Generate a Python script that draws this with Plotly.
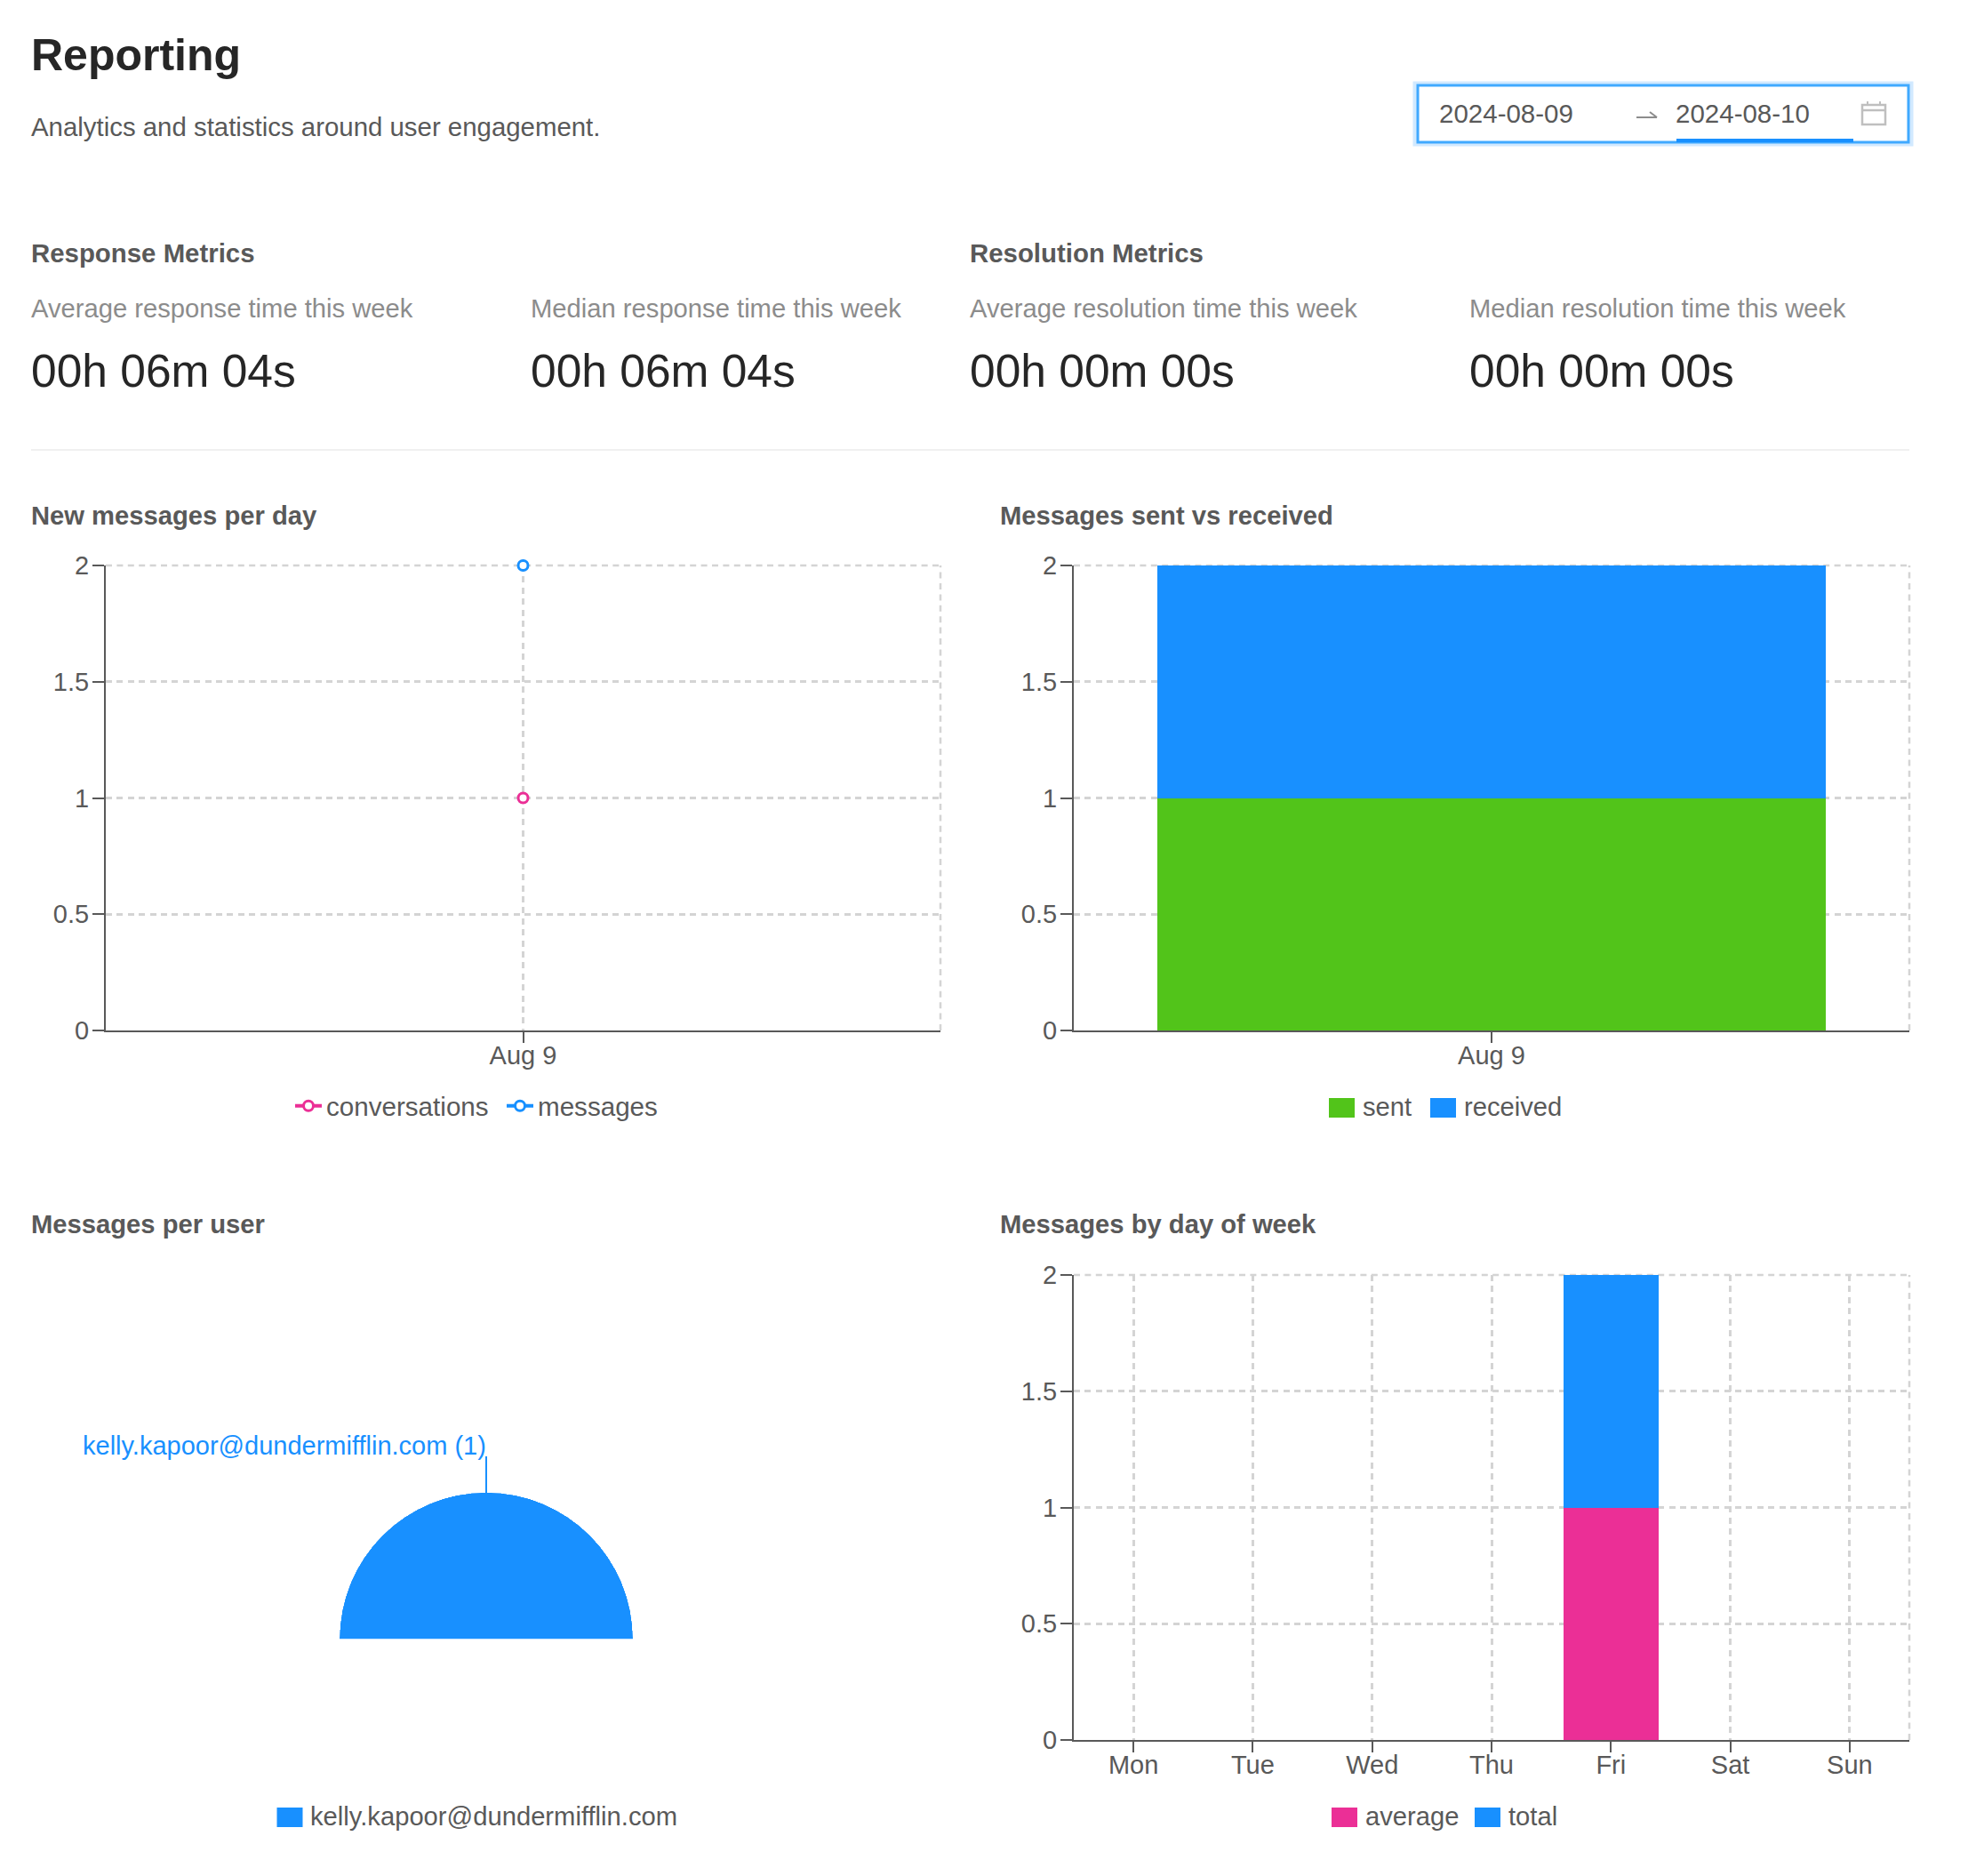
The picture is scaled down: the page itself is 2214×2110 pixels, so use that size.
import plotly.graph_objects as go

W, H = 2214, 2110
FONT = "Liberation Sans"
BLUE = "#1890ff"
PINK = "#eb2f96"
GREEN = "#52c41a"
AXIS = "#595959"
GRID = "#d4d4d4"
DASH = "7px,5.4px"

# values
day_labels = ["Aug 9"]
conversations = [1]
messages = [2]
sent = [1]
received = [1]
users = ["kelly.kapoor@dundermifflin.com"]
user_messages = [1]
weekdays = ["Mon", "Tue", "Wed", "Thu", "Fri", "Sat", "Sun"]
week_average = [0, 0, 0, 0, 1, 0, 0]
week_total = [0, 0, 0, 0, 1, 0, 0]
y_ticks = [0, 0.5, 1, 1.5, 2]
metrics = [
    ("Average response time this week", "00h 06m 04s"),
    ("Median response time this week", "00h 06m 04s"),
    ("Average resolution time this week", "00h 00m 00s"),
    ("Median resolution time this week", "00h 00m 00s"),
]


def fx(x):
    return x / W


def fy(y):
    return 1 - y / H


annotations = []
shapes = []


def add_text(x, y, text, size=29, color=AXIS, bold=False, anchor="left"):
    annotations.append(dict(
        xref="paper", yref="paper", x=fx(x), y=fy(y), text=f"<b>{text}</b>" if bold else text,
        showarrow=False, xanchor=anchor, yanchor="middle",
        font=dict(family=FONT, size=size, color=color), borderpad=0, borderwidth=0,
    ))


def add_rect(x0, y0, x1, y1, fill="rgba(0,0,0,0)", line=None, width=0):
    shapes.append(dict(
        type="rect", xref="paper", yref="paper", x0=fx(x0), x1=fx(x1), y0=fy(y0), y1=fy(y1),
        fillcolor=fill, line=dict(color=line or "rgba(0,0,0,0)", width=width),
    ))


def add_line(x0, y0, x1, y1, color, width):
    shapes.append(dict(
        type="line", xref="paper", yref="paper", x0=fx(x0), x1=fx(x1), y0=fy(y0), y1=fy(y1),
        line=dict(color=color, width=width),
    ))


# plotly's own bar legend swatch is a fixed 12px square, so these are drawn by hand
def add_swatch_legend(y, items):
    for x, text_x, label, color in items:
        add_rect(x, y - 11, x + 29, y + 11, fill=color)
        add_text(text_x, y - 1, label, size=29.2)


def axis_pair(x0, x1, y0, y1, anchor):
    xaxis = dict(
        domain=[fx(x0), fx(x1)], anchor=anchor, type="category", showline=True, linecolor=AXIS, linewidth=2,
        ticks="outside", ticklen=12, tickwidth=2, tickcolor=AXIS, showgrid=True, gridcolor=GRID, gridwidth=2.5,
        griddash=DASH, tickfont=dict(family=FONT, size=29, color=AXIS), zeroline=False, fixedrange=True,
        ticklabelstandoff=-11,
    )
    yaxis = dict(
        domain=[fy(y1), fy(y0)], range=[0, 2], tickvals=y_ticks, showline=True, linecolor=AXIS, linewidth=2,
        ticks="outside", ticklen=13, tickwidth=2, tickcolor=AXIS, showgrid=True, gridcolor=GRID, gridwidth=2.5,
        griddash=DASH, tickfont=dict(family=FONT, size=29, color=AXIS), zeroline=False, fixedrange=True,
        ticklabelstandoff=-2,
    )
    return xaxis, yaxis


# plotly skips the gridlines that sit on the plot edge
def plot_edges(xref, yref):
    for edge in [
        dict(x0=1, x1=1, y0=0, y1=1),
        dict(x0=0, x1=1, y0=1, y1=1),
    ]:
        shapes.append(dict(
            type="line", xref=f"{xref} domain", yref=f"{yref} domain", layer="below",
            line=dict(color=GRID, width=2.5, dash=DASH), **edge,
        ))


fig = go.Figure()

# New messages per day
for name, vals, color in [("conversations", conversations, PINK), ("messages", messages, BLUE)]:
    fig.add_trace(go.Scatter(
        x=day_labels, y=vals, name=name, mode="lines+markers", cliponaxis=False, xaxis="x", yaxis="y",
        line=dict(color=color, width=4),
        marker=dict(size=11, color="white", line=dict(color=color, width=3)),
    ))

# Messages sent vs received
for name, vals, color in [("sent", sent, GREEN), ("received", received, BLUE)]:
    fig.add_trace(go.Bar(
        x=day_labels, y=vals, name=name, marker=dict(color=color, line=dict(width=0)),
        xaxis="x2", yaxis="y2", showlegend=False,
    ))

# Messages by day of week
for name, vals, color in [("average", week_average, PINK), ("total", week_total, BLUE)]:
    fig.add_trace(go.Bar(
        x=weekdays, y=vals, name=name, xaxis="x3", yaxis="y3", showlegend=False,
        marker=dict(color=color, line=dict(width=0)),
    ))

# Messages per user, half donut without hole
fig.add_trace(go.Barpolar(
    r=user_messages, theta=[90], width=[180], name=users[0], marker=dict(color=BLUE, line=dict(width=0)),
    subplot="polar", showlegend=False,
))

x1, y1 = axis_pair(119, 1058, 636, 1159, "y")
x2, y2 = axis_pair(1208, 2148, 636, 1159, "y2")
x3, y3 = axis_pair(1208, 2148, 1434, 1957, "y3")
x1.update(range=[-0.5, 0.5])
x2.update(range=[-0.5, 0.5], anchor="y2")
x3.update(range=[-0.5, 6.5], categoryorder="array", categoryarray=weekdays)
y2.update(anchor="x2")
y3.update(anchor="x3")
y1.update(anchor="x")
plot_edges("x", "y")
plot_edges("x2", "y2")
plot_edges("x3", "y3")

# header
add_text(35, 62, "Reporting", size=50, color="#262626", bold=True)
add_text(35, 143, "Analytics and statistics around user engagement.", size=29.4)

# date picker
add_rect(1592, 94, 2150, 162, line="rgba(24,144,255,0.2)", width=5)
add_rect(1595, 96, 2147, 160, fill="white", line="#40a9ff", width=3)
add_line(1886, 158, 2085, 158, BLUE, 4)
add_text(1619, 128, "2024-08-09", size=29.5)
add_text(1885, 128, "2024-08-10", size=29.5)
add_line(1841, 132, 1864, 132, "#8c8c8c", 2)
add_line(1856, 126, 1864, 132, "#8c8c8c", 2)
add_rect(2095, 118, 2121, 140, line="#bfbfbf", width=2.5)
add_line(2095, 124, 2121, 124, "#bfbfbf", 2.5)
add_line(2101, 114, 2101, 118, "#bfbfbf", 2)
add_line(2115, 114, 2115, 118, "#bfbfbf", 2)

# metric blocks
add_text(35, 284, "Response Metrics", size=29.4, bold=True)
add_text(1091, 284, "Resolution Metrics", size=29.4, bold=True)
for x, (label, value) in zip([35, 597, 1091, 1653], metrics):
    add_text(x, 347, label, size=29.2, color="#8c8c8c")
    add_text(x, 417, value, size=51.5, color="#262626")
add_line(35, 506, 2148, 506, "#f0f0f0", 2)

# chart titles
add_text(35, 580, "New messages per day", size=29.2, bold=True)
add_text(1125, 580, "Messages sent vs received", size=29.2, bold=True)
add_text(35, 1377, "Messages per user", size=29.2, bold=True)
add_text(1125, 1377, "Messages by day of week", size=29.2, bold=True)

# pie label with leader line
add_text(547, 1626, f"{users[0]} ({user_messages[0]})", color=BLUE, anchor="right")
add_line(547, 1638, 547, 1680, BLUE, 2)

add_swatch_legend(1246, [(1495, 1533, "sent", GREEN), (1609, 1647, "received", BLUE)])
add_swatch_legend(2044, [(1498, 1536, "average", PINK), (1659, 1697, "total", BLUE)])
add_swatch_legend(2044, [(311.5, 349, users[0], BLUE)])

fig.update_layout(
    width=W, height=H, margin=dict(l=0, r=0, t=0, b=0, autoexpand=False), paper_bgcolor="white",
    plot_bgcolor="white", barmode="stack", bargap=0.2, hovermode=False, dragmode=False,
    xaxis=x1, yaxis=y1, xaxis2=x2, yaxis2=y2, xaxis3=x3, yaxis3=y3,
    polar=dict(
        domain=dict(x=[fx(382), fx(712)], y=[fy(1843.6), fy(1678.6)]), sector=[0, 180],
        bgcolor="rgba(0,0,0,0)",
        radialaxis=dict(visible=False, range=[0, 1]), angularaxis=dict(visible=False),
    ),
    legend=dict(
        orientation="h", x=fx(327), y=fy(1244), xanchor="left", yanchor="middle", itemwidth=30,
        entrywidth=193, entrywidthmode="pixels", traceorder="normal",
        font=dict(family=FONT, size=29.6, color=AXIS), bgcolor="rgba(0,0,0,0)",
    ),
    annotations=annotations, shapes=shapes, showlegend=True,
)

fig.write_html("out.html", post_script="document.body.style.margin='0';", config={"displayModeBar": False})
